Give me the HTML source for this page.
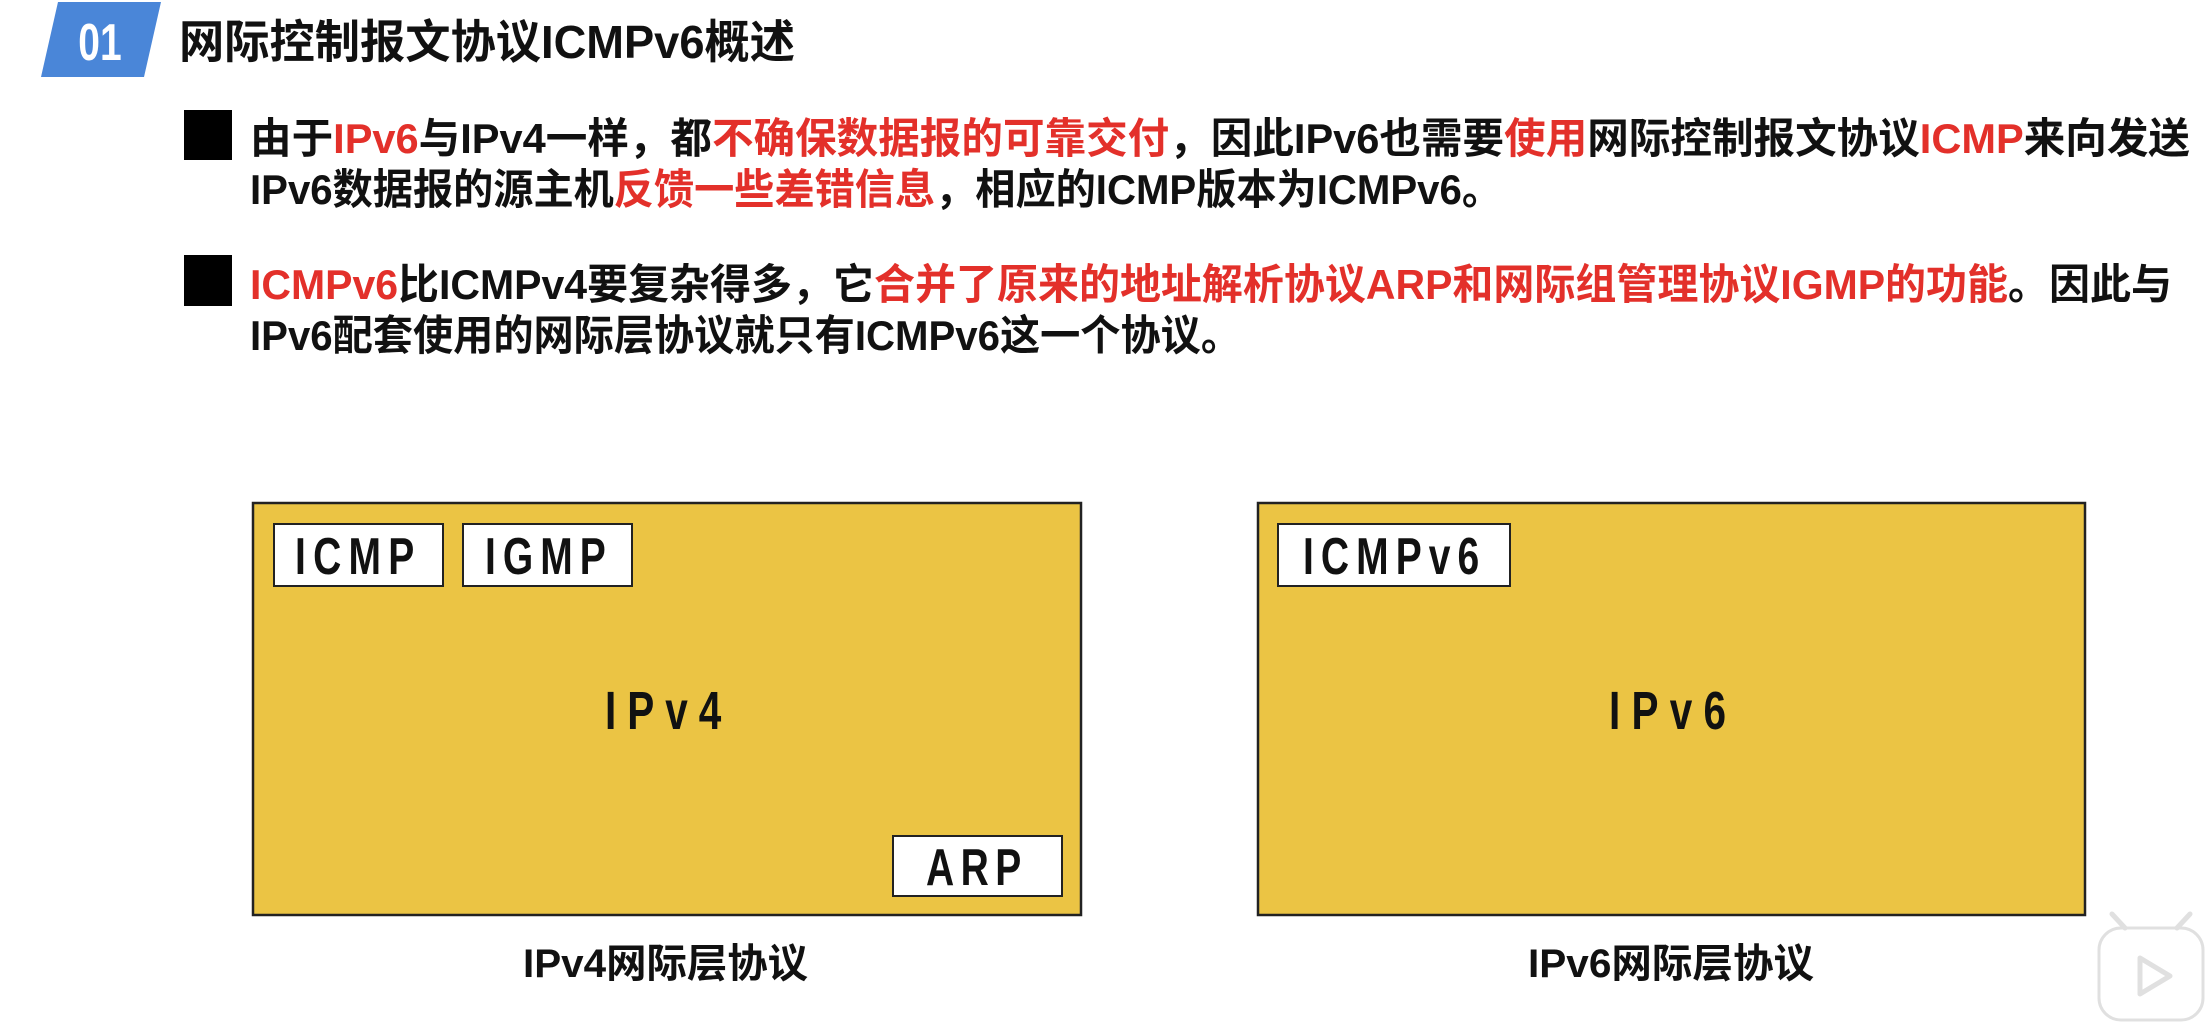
<!DOCTYPE html>
<html><head><meta charset="utf-8"><style>
html,body{margin:0;padding:0;background:#fff;width:2206px;height:1026px;overflow:hidden}
svg{display:block}
text{font-family:"Liberation Sans","Noto Sans CJK SC",sans-serif;font-weight:bold}
</style></head><body>
<svg width="2206" height="1026" viewBox="0 0 2206 1026" xmlns="http://www.w3.org/2000/svg">
<polygon points="58,2 161,2 144,77 41,77" fill="#4a86d8"/>
<text transform="translate(100,60) scale(0.75,1)" font-size="52" fill="#fff" text-anchor="middle">01</text>
<text x="179" y="58" font-size="46" fill="#111" textLength="616" lengthAdjust="spacingAndGlyphs">网际控制报文协议ICMPv6概述</text>

<rect x="184" y="110" width="48" height="50" fill="#000"/>
<rect x="184" y="255" width="48" height="51" fill="#000"/>
<g font-size="42" fill="#111">
<text x="250" y="153" textLength="1940" lengthAdjust="spacingAndGlyphs">由于<tspan fill="#e3302a">IPv6</tspan>与IPv4一样，都<tspan fill="#e3302a">不确保数据报的可靠交付</tspan>，因此IPv6也需要<tspan fill="#e3302a">使用</tspan>网际控制报文协议<tspan fill="#e3302a">ICMP</tspan>来向发送</text>
<text x="250" y="204" textLength="1252" lengthAdjust="spacingAndGlyphs">IPv6数据报的源主机<tspan fill="#e3302a">反馈一些差错信息</tspan>，相应的ICMP版本为ICMPv6。</text>
<text x="250" y="299" textLength="1922" lengthAdjust="spacingAndGlyphs"><tspan fill="#e3302a">ICMPv6</tspan>比ICMPv4要复杂得多，它<tspan fill="#e3302a">合并了原来的地址解析协议ARP和网际组管理协议IGMP的功能</tspan>。因此与</text>
<text x="250" y="350" textLength="991" lengthAdjust="spacingAndGlyphs">IPv6配套使用的网际层协议就只有ICMPv6这一个协议。</text>
</g>

<rect x="253" y="503" width="828" height="412" fill="#ebc444" stroke="#222" stroke-width="2.5"/>
<rect x="274" y="524" width="169" height="62" fill="#fff" stroke="#222" stroke-width="2"/>
<rect x="463" y="524" width="169" height="62" fill="#fff" stroke="#222" stroke-width="2"/>
<rect x="893" y="836" width="169" height="60" fill="#fff" stroke="#222" stroke-width="2"/>
<text transform="translate(295,574) scale(0.75,1)" font-size="52" fill="#111" textLength="159" lengthAdjust="spacing">ICMP</text>
<text transform="translate(485,574) scale(0.75,1)" font-size="52" fill="#111" textLength="161" lengthAdjust="spacing">IGMP</text>
<text transform="translate(926,885) scale(0.75,1)" font-size="52" fill="#111" textLength="127" lengthAdjust="spacing">ARP</text>
<text transform="translate(605,729) scale(0.75,1)" font-size="54" fill="#111" textLength="155" lengthAdjust="spacing">IPv4</text>

<rect x="1258" y="503" width="827" height="412" fill="#ebc444" stroke="#222" stroke-width="2.5"/>
<rect x="1278" y="524" width="232" height="62" fill="#fff" stroke="#222" stroke-width="2"/>
<text transform="translate(1303,574) scale(0.75,1)" font-size="52" fill="#111" textLength="235" lengthAdjust="spacing">ICMPv6</text>
<text transform="translate(1609,729) scale(0.75,1)" font-size="54" fill="#111" textLength="156" lengthAdjust="spacing">IPv6</text>

<text x="523" y="977" font-size="40" fill="#111" textLength="285" lengthAdjust="spacingAndGlyphs">IPv4网际层协议</text>
<text x="1528" y="977" font-size="40" fill="#111" textLength="286" lengthAdjust="spacingAndGlyphs">IPv6网际层协议</text>

<g opacity="0.9">
<rect x="2099" y="928" width="104" height="92" rx="22" fill="#fff" stroke="#ddd" stroke-width="3"/>
<line x1="2125" y1="928" x2="2112" y2="914" stroke="#ddd" stroke-width="5" stroke-linecap="round"/>
<line x1="2177" y1="928" x2="2190" y2="914" stroke="#ddd" stroke-width="5" stroke-linecap="round"/>
<polygon points="2140,958 2140,994 2170,976" fill="none" stroke="#ddd" stroke-width="5" stroke-linejoin="round"/>
</g>
</svg>
</body></html>
